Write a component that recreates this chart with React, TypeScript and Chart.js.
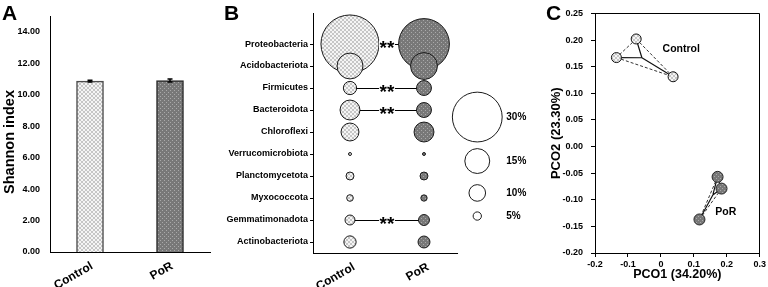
import React, { useEffect, useRef } from 'react';
import { Chart, registerables } from 'chart.js';

Chart.register(...registerables);

const FONT = '"Liberation Sans", Arial, Helvetica, sans-serif';

// ---------- Panel A: Shannon index ----------
const groups = ['Control', 'PoR'];
const shannonMean = [10.86, 10.9];
const shannonErr = [0.06, 0.1];
const shannonTickValues = [0, 2, 4, 6, 8, 10, 12, 14];

// ---------- Panel B: relative abundance (%) ----------
const phyla = [
  'Proteobacteria',
  'Acidobacteriota',
  'Firmicutes',
  'Bacteroidota',
  'Chloroflexi',
  'Verrucomicrobiota',
  'Planctomycetota',
  'Myxococcota',
  'Gemmatimonadota',
  'Actinobacteriota',
];
const controlAbundance = [35, 15.6, 8, 12, 10.8, 1.8, 4.8, 4, 6, 7.4];
const porAbundance = [30.6, 16.2, 9, 9, 12, 1.8, 4.8, 3.8, 6.6, 7.2];
const significantPhyla = ['Proteobacteria', 'Firmicutes', 'Bacteroidota', 'Gemmatimonadota'];
const legendAbundance = [30, 15, 10, 5];
const legendLabels = ['30%', '15%', '10%', '5%'];

// ---------- Panel C: PCoA ----------
const controlPCO1 = [-0.075, -0.135, 0.037];
const controlPCO2 = [0.202, 0.167, 0.131];
const porPCO1 = [0.172, 0.184, 0.117];
const porPCO2 = [-0.057, -0.079, -0.137];
const pco1Ticks = [-0.2, -0.1, 0, 0.1, 0.2, 0.3];
const pco2Ticks = [-0.2, -0.15, -0.1, -0.05, 0, 0.05, 0.1, 0.15, 0.2, 0.25];

// layout constants (not data)
const RADIUS_PER_PERCENT = 0.83;
const B_AXIS_END = 1.46;
const LEGEND_X = 1.72;
const LEGEND_Y = [3.32, 5.32, 6.77, 7.82];
const GROUP_LABEL_POS = [
  { text: 'Control', x: 0.005, y: 0.183 },
  { text: 'PoR', x: 0.165, y: -0.123 },
];

const H = 287;
const axisBorder = { display: true, color: '#000', width: 1 };
const f = (size: number) => ({ size, weight: 'bold' as const, family: FONT });

function makePattern(kind: 'light' | 'dark'): any {
  const c = document.createElement('canvas');
  c.width = 4;
  c.height = 4;
  const g = c.getContext('2d')!;
  if (kind === 'light') {
    g.fillStyle = '#f5f5f5';
    g.fillRect(0, 0, 4, 4);
    g.fillStyle = '#c6c6c6';
    for (let i = 0; i < 4; i++) {
      g.fillRect(i, i, 1, 1);
      g.fillRect(3 - i, i, 1, 1);
    }
  } else {
    g.fillStyle = '#787878';
    g.fillRect(0, 0, 4, 4);
    g.fillStyle = '#a9a9a9';
    g.fillRect(0, 0, 1, 1);
    g.fillRect(2, 2, 1, 1);
  }
  return g.createPattern(c, 'repeat');
}

const panelLetter = (letter: string, x: number, y: number) => ({
  id: 'panelLetter' + letter,
  afterDraw(chart: any) {
    const ctx = chart.ctx;
    ctx.save();
    ctx.font = `bold 21px ${FONT}`;
    ctx.fillStyle = '#000';
    ctx.textAlign = 'left';
    ctx.textBaseline = 'alphabetic';
    ctx.fillText(letter, x, y);
    ctx.restore();
  },
});

function buildA(canvas: HTMLCanvasElement) {
  const light = makePattern('light');
  const dark = makePattern('dark');
  const errorBars = {
    id: 'errorBars',
    afterDatasetsDraw(chart: any) {
      const { ctx } = chart;
      const y = chart.scales.y;
      const meta = chart.getDatasetMeta(0);
      ctx.save();
      ctx.strokeStyle = '#000';
      ctx.lineWidth = 1.5;
      meta.data.forEach((bar: any, i: number) => {
        const top = y.getPixelForValue(shannonMean[i] + shannonErr[i]);
        const bot = y.getPixelForValue(shannonMean[i] - shannonErr[i]);
        ctx.beginPath();
        ctx.moveTo(bar.x, top);
        ctx.lineTo(bar.x, bot);
        ctx.moveTo(bar.x - 2.5, top);
        ctx.lineTo(bar.x + 2.5, top);
        ctx.moveTo(bar.x - 2.5, bot);
        ctx.lineTo(bar.x + 2.5, bot);
        ctx.stroke();
      });
      ctx.restore();
    },
  };
  const yTitle = {
    id: 'yTitleA',
    afterDraw(chart: any) {
      const ctx = chart.ctx;
      const area = chart.chartArea;
      ctx.save();
      ctx.translate(9.5, (area.top + area.bottom) / 2 + 8);
      ctx.rotate(-Math.PI / 2);
      ctx.font = `bold 14.5px ${FONT}`;
      ctx.fillStyle = '#000';
      ctx.textAlign = 'center';
      ctx.textBaseline = 'middle';
      ctx.fillText('Shannon index', 0, 0);
      ctx.restore();
    },
  };
  return new Chart(canvas, {
    type: 'bar',
    data: {
      labels: groups,
      datasets: [
        {
          data: shannonMean,
          backgroundColor: [light, dark],
          borderColor: ['#4d4d4d', '#2a2a2a'],
          borderWidth: 1.5,
          barThickness: 27,
        },
      ],
    },
    options: {
      animation: false,
      responsive: false,
      maintainAspectRatio: false,
      layout: { autoPadding: false, padding: { left: 0, top: 16, right: 5, bottom: 0 } },
      plugins: { legend: { display: false }, tooltip: { enabled: false } },
      scales: {
        x: {
          grid: { display: false, drawTicks: false, tickLength: 0 },
          border: axisBorder,
          ticks: { font: f(12), color: '#000', minRotation: 30, maxRotation: 30, padding: 7, labelOffset: 2 },
          afterFit: (s: any) => {
            s.height = 35;
          },
        },
        y: {
          min: 0,
          max: 15,
          afterBuildTicks: (s: any) => {
            s.ticks = shannonTickValues.map((v) => ({ value: v }));
          },
          grid: { display: false, drawTicks: false, tickLength: 0 },
          border: axisBorder,
          ticks: { font: f(9), color: '#000', padding: 10, autoSkip: false, callback: (v: any) => Number(v).toFixed(2) },
          afterFit: (s: any) => {
            s.width = 50;
          },
        },
      },
    } as any,
    plugins: [errorBars, yTitle, panelLetter('A', 2, 20)],
  });
}

function buildB(canvas: HTMLCanvasElement) {
  const light = makePattern('light');
  const dark = makePattern('dark');
  const K = RADIUS_PER_PERCENT;
  const sigPlugin = {
    id: 'sigLines',
    beforeDatasetsDraw(chart: any) {
      // bottom axis line, ending before the size legend
      const { ctx, chartArea } = chart;
      const x = chart.scales.x;
      const yb = Math.round(chartArea.bottom) + 0.5;
      ctx.save();
      ctx.strokeStyle = '#000';
      ctx.lineWidth = 1;
      ctx.beginPath();
      ctx.moveTo(chartArea.left, yb);
      ctx.lineTo(x.getPixelForValue(B_AXIS_END), yb);
      ctx.stroke();
      ctx.restore();
    },
    afterDatasetsDraw(chart: any) {
      const { ctx } = chart;
      const { x, y } = chart.scales;
      ctx.save();
      significantPhyla.forEach((name) => {
        const i = phyla.indexOf(name);
        const yp = Math.round(y.getPixelForValue(i)) + 0.5;
        const xc = x.getPixelForValue(0);
        const xp = x.getPixelForValue(1);
        const x0 = xc + controlAbundance[i] * K;
        const x1 = xp - porAbundance[i] * K;
        ctx.strokeStyle = '#000';
        ctx.lineWidth = 1;
        ctx.beginPath();
        ctx.moveTo(x0, yp);
        ctx.lineTo(x1, yp);
        ctx.stroke();
        const mx = (xc + xp) / 2;
        ctx.fillStyle = '#fff';
        ctx.fillRect(mx - 8, yp - 4, 16, 8);
        ctx.fillStyle = '#000';
        ctx.font = `bold 19px ${FONT}`;
        ctx.textAlign = 'center';
        ctx.textBaseline = 'alphabetic';
        const m = ctx.measureText('**');
        const asc = m.actualBoundingBoxAscent || 13;
        const desc = m.actualBoundingBoxDescent || -8;
        ctx.fillText('**', mx, yp + (asc - desc) / 2);
      });
      // size legend labels
      ctx.font = `bold 10px ${FONT}`;
      ctx.textAlign = 'left';
      ctx.textBaseline = 'middle';
      ctx.fillStyle = '#000';
      legendLabels.forEach((lab, i) => {
        const cx = x.getPixelForValue(LEGEND_X);
        ctx.fillText(lab, cx + 29, y.getPixelForValue(LEGEND_Y[i]));
      });
      ctx.restore();
    },
  };
  return new Chart(canvas, {
    type: 'bubble',
    data: {
      datasets: [
        {
          label: 'Control',
          data: phyla.map((_, i) => ({ x: 0, y: i, r: controlAbundance[i] * K })),
          backgroundColor: light,
          borderColor: '#1a1a1a',
          borderWidth: 1,
          clip: false,
        },
        {
          label: 'PoR',
          data: phyla.map((_, i) => ({ x: 1, y: i, r: porAbundance[i] * K })),
          backgroundColor: dark,
          borderColor: '#1a1a1a',
          borderWidth: 1,
          clip: false,
        },
        {
          label: 'size',
          data: legendAbundance.map((v, i) => ({ x: LEGEND_X, y: LEGEND_Y[i], r: v * K })),
          backgroundColor: '#fff',
          borderColor: '#1a1a1a',
          borderWidth: 1,
          clip: false,
        },
      ],
    },
    options: {
      animation: false,
      responsive: false,
      maintainAspectRatio: false,
      layout: { autoPadding: false, padding: { left: 0, top: 13, right: 5, bottom: 0 } },
      plugins: { legend: { display: false }, tooltip: { enabled: false } },
      scales: {
        x: {
          type: 'linear',
          min: -0.5,
          max: 2.365,
          afterBuildTicks: (s: any) => {
            s.ticks = [{ value: 0 }, { value: 1 }];
          },
          grid: { display: false, drawTicks: false, tickLength: 0 },
          border: { display: false },
          ticks: {
            font: f(12),
            color: '#000',
            minRotation: 30,
            maxRotation: 30,
            padding: 7,
            labelOffset: 4,
            autoSkip: false,
            callback: (v: any) => groups[Math.round(Number(v))],
          },
          afterFit: (s: any) => {
            s.height = 34;
          },
        },
        y: {
          type: 'linear',
          min: -1.41,
          max: 9.5,
          reverse: true,
          afterBuildTicks: (s: any) => {
            s.ticks = phyla.map((_, i) => ({ value: i }));
          },
          grid: { display: true, drawOnChartArea: false, drawTicks: true, tickLength: 3, color: '#000', tickColor: '#000' },
          border: axisBorder,
          ticks: {
            font: f(9),
            color: '#000',
            padding: 2,
            autoSkip: false,
            callback: (v: any) => phyla[Math.round(Number(v))],
          },
          afterFit: (s: any) => {
            s.width = 98;
          },
        },
      },
    } as any,
    plugins: [sigPlugin, panelLetter('B', 9, 20)],
  });
}

function buildC(canvas: HTMLCanvasElement) {
  const light = makePattern('light');
  const dark = makePattern('dark');
  const groupsXY = [
    { xs: controlPCO1, ys: controlPCO2 },
    { xs: porPCO1, ys: porPCO2 },
  ];
  const spider = {
    id: 'spider',
    beforeDatasetsDraw(chart: any) {
      const { ctx } = chart;
      const { x, y } = chart.scales;
      ctx.save();
      groupsXY.forEach(({ xs, ys }) => {
        const pts = xs.map((v, i) => [x.getPixelForValue(v), y.getPixelForValue(ys[i])]);
        const cx = x.getPixelForValue(xs.reduce((a, b) => a + b, 0) / xs.length);
        const cy = y.getPixelForValue(ys.reduce((a, b) => a + b, 0) / ys.length);
        ctx.setLineDash([3, 2]);
        ctx.strokeStyle = '#333';
        ctx.lineWidth = 1;
        ctx.beginPath();
        for (let a = 0; a < pts.length; a++) {
          for (let b = a + 1; b < pts.length; b++) {
            ctx.moveTo(pts[a][0], pts[a][1]);
            ctx.lineTo(pts[b][0], pts[b][1]);
          }
        }
        ctx.stroke();
        ctx.setLineDash([]);
        ctx.strokeStyle = '#111';
        ctx.lineWidth = 1.2;
        ctx.beginPath();
        pts.forEach((p) => {
          ctx.moveTo(p[0], p[1]);
          ctx.lineTo(cx, cy);
        });
        ctx.stroke();
      });
      ctx.restore();
    },
    afterDraw(chart: any) {
      const { ctx, chartArea } = chart;
      const { x, y } = chart.scales;
      ctx.save();
      ctx.strokeStyle = '#000';
      ctx.lineWidth = 1;
      ctx.beginPath();
      ctx.moveTo(chartArea.left, Math.round(chartArea.top) + 0.5);
      ctx.lineTo(Math.round(chartArea.right) - 0.5, Math.round(chartArea.top) + 0.5);
      ctx.lineTo(Math.round(chartArea.right) - 0.5, chartArea.bottom);
      ctx.stroke();
      ctx.font = `bold 10.5px ${FONT}`;
      ctx.fillStyle = '#000';
      ctx.textAlign = 'left';
      ctx.textBaseline = 'middle';
      GROUP_LABEL_POS.forEach((g) => ctx.fillText(g.text, x.getPixelForValue(g.x), y.getPixelForValue(g.y)));
      ctx.restore();
    },
  };
  return new Chart(canvas, {
    type: 'scatter',
    data: {
      datasets: [
        {
          label: 'Control',
          data: controlPCO1.map((v, i) => ({ x: v, y: controlPCO2[i] })),
          pointRadius: 5,
          pointBackgroundColor: light,
          pointBorderColor: '#111',
          pointBorderWidth: 1,
        },
        {
          label: 'PoR',
          data: porPCO1.map((v, i) => ({ x: v, y: porPCO2[i] })),
          pointRadius: 5.5,
          pointBackgroundColor: dark,
          pointBorderColor: '#222',
          pointBorderWidth: 1,
        },
      ],
    },
    options: {
      animation: false,
      responsive: false,
      maintainAspectRatio: false,
      layout: { autoPadding: false, padding: { left: 0, top: 6, right: 6, bottom: 0 } },
      plugins: { legend: { display: false }, tooltip: { enabled: false } },
      scales: {
        x: {
          type: 'linear',
          min: -0.2,
          max: 0.3,
          afterBuildTicks: (s: any) => {
            s.ticks = pco1Ticks.map((v) => ({ value: v }));
          },
          grid: { display: true, drawOnChartArea: false, drawTicks: true, tickLength: 4, color: '#000', tickColor: '#000' },
          border: axisBorder,
          ticks: {
            font: f(9),
            color: '#000',
            padding: 2,
            autoSkip: false,
            maxRotation: 0,
            callback: (v: any) => (Math.abs(Number(v)) < 1e-9 ? '0' : Number(v).toFixed(1)),
          },
          title: { display: true, text: 'PCO1 (34.20%)', font: f(12.5), color: '#000', padding: { top: 0, bottom: 4.5 } },
          afterFit: (s: any) => {
            s.height = 34;
          },
        },
        y: {
          type: 'linear',
          min: -0.2,
          max: 0.25,
          afterBuildTicks: (s: any) => {
            s.ticks = pco2Ticks.map((v) => ({ value: v }));
          },
          grid: { display: true, drawOnChartArea: false, drawTicks: true, tickLength: 4, color: '#000', tickColor: '#000' },
          border: axisBorder,
          ticks: {
            font: f(9),
            color: '#000',
            padding: 8,
            autoSkip: false,
            callback: (v: any) => (Math.abs(Number(v)) < 1e-9 ? '0.00' : Number(v).toFixed(2)),
          },
          title: { display: true, text: 'PCO2 (23.30%)', font: f(13), color: '#000', padding: { top: 19, bottom: 0 } },
          afterFit: (s: any) => {
            s.width = 65;
          },
        },
      },
    } as any,
    plugins: [spider, panelLetter('C', 16, 20)],
  });
}

function Panel({ left, width, build }: { left: number; width: number; build: (c: HTMLCanvasElement) => Chart }) {
  const ref = useRef<HTMLCanvasElement | null>(null);
  useEffect(() => {
    const chart = build(ref.current!);
    return () => chart.destroy();
  }, [build]);
  return (
    <canvas
      ref={ref}
      width={width}
      height={H}
      style={{ position: 'absolute', left, top: 0, width, height: H, display: 'block' }}
    />
  );
}

export default function App() {
  return (
    <div style={{ position: 'absolute', left: 0, top: 0, width: 768, height: H, background: '#fff', overflow: 'hidden' }}>
      <Panel left={0} width={215} build={buildA} />
      <Panel left={215} width={315} build={buildB} />
      <Panel left={530} width={238} build={buildC} />
    </div>
  );
}
